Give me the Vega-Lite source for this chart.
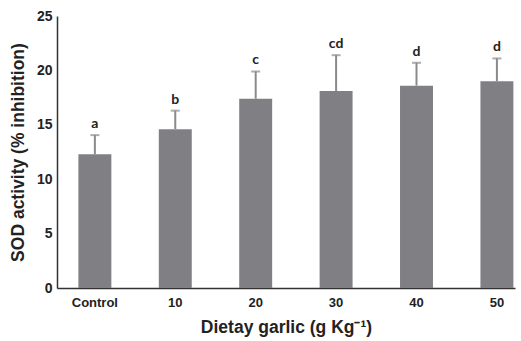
{
  "$schema": "https://vega.github.io/schema/vega-lite/v6.json",
  "width": 458,
  "height": 272,
  "autosize": {"type": "none"},
  "padding": {"left": 57, "top": 16, "right": 6, "bottom": 53},
  "background": "white",
  "config": {"view": {"stroke": null}},
  "data": {"values": [
    {"group": "Control", "mean": 12.3, "upper": 14.05, "letter": "a"},
    {"group": "10", "mean": 14.6, "upper": 16.3, "letter": "b"},
    {"group": "20", "mean": 17.4, "upper": 19.9, "letter": "c"},
    {"group": "30", "mean": 18.1, "upper": 21.4, "letter": "cd"},
    {"group": "40", "mean": 18.6, "upper": 20.7, "letter": "d"},
    {"group": "50", "mean": 19.0, "upper": 21.1, "letter": "d"}
  ]},
  "encoding": {
    "x": {
      "field": "group", "type": "nominal", "sort": null,
      "scale": {"paddingInner": 0.59, "paddingOuter": 0.143, "align": 0.93},
      "axis": {
        "title": "Dietay garlic (g Kg⁻¹)", "labelAngle": 0, "ticks": false,
        "labelFont": "Liberation Sans", "labelFontWeight": "bold", "labelFontSize": 13, "labelColor": "#222",
        "labelPadding": 8,
        "titleFont": "Liberation Sans", "titleFontWeight": "bold", "titleFontSize": 17.5, "titleColor": "#222",
        "titlePadding": 9,
        "domainColor": "#333", "domainWidth": 1.5
      }
    }
  },
  "layer": [
    {
      "mark": {"type": "bar", "color": "#808084"},
      "encoding": {
        "y": {
          "field": "mean", "type": "quantitative",
          "scale": {"domain": [0, 25], "nice": false},
          "axis": {
            "title": "SOD activity (% inhibition)", "values": [0, 5, 10, 15, 20, 25], "grid": false, "ticks": false,
            "labelFont": "Liberation Sans", "labelFontWeight": "bold", "labelFontSize": 14, "labelColor": "#222",
            "labelPadding": 5,
            "titleFont": "Liberation Sans", "titleFontWeight": "bold", "titleFontSize": 17.5, "titleColor": "#222",
            "titlePadding": 9,
            "domainColor": "#333", "domainWidth": 1.5
          }
        }
      }
    },
    {
      "mark": {"type": "rule", "color": "#8a8a8c", "strokeWidth": 2},
      "encoding": {"y": {"field": "mean", "type": "quantitative"}, "y2": {"field": "upper"}}
    },
    {
      "mark": {"type": "tick", "color": "#8a8a8c", "thickness": 2, "size": 9},
      "encoding": {"y": {"field": "upper", "type": "quantitative"}}
    },
    {
      "mark": {"type": "text", "baseline": "bottom", "dy": -4, "font": "Lato", "fontWeight": "bold", "fontSize": 14, "color": "#222"},
      "encoding": {"y": {"field": "upper", "type": "quantitative"}, "text": {"field": "letter"}}
    }
  ]
}
